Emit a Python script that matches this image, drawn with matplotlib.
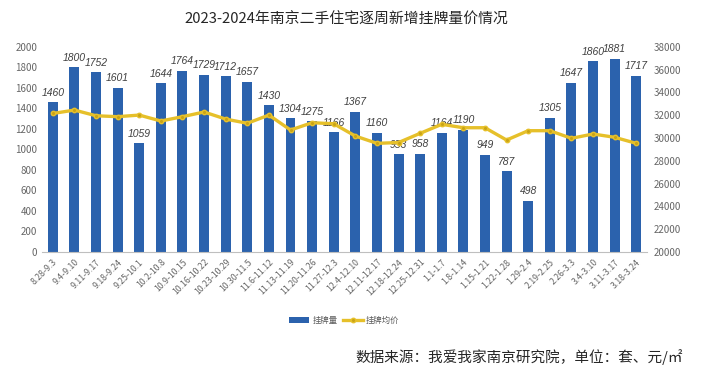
import numpy as np
import matplotlib.pyplot as plt

plt.rcParams['font.family'] = ['Noto Sans CJK SC', 'DejaVu Sans']

weeks = ['8.28-9.3', '9.4-9.10', '9.11-9.17', '9.18-9.24', '9.25-10.1', '10.2-10.8',
         '10.9-10.15', '10.16-10.22', '10.23-10.29', '10.30-11.5', '11.6-11.12',
         '11.13-11.19', '11.20-11.26', '11.27-12.3', '12.4-12.10', '12.11-12.17',
         '12.18-12.24', '12.25-12.31', '1.1-1.7', '1.8-1.14', '1.15-1.21', '1.22-1.28',
         '1.29-2.4', '2.19-2.25', '2.26-3.3', '3.4-3.10', '3.11-3.17', '3.18-3.24']
listings = [1460, 1800, 1752, 1601, 1059, 1644, 1764, 1729, 1712, 1657, 1430, 1304, 1275,
            1166, 1367, 1160, 953, 958, 1164, 1190, 949, 787, 498, 1305, 1647, 1860, 1881, 1717]
avg_price = [32150, 32450, 31950, 31870, 32010, 31490, 31870, 32280, 31660, 31290, 32010,
             30700, 31340, 31250, 30170, 29530, 29600, 30410, 31200, 30900, 30900, 29820,
             30640, 30640, 29970, 30350, 30060, 29530]

fig = plt.figure(figsize=(7.06, 3.87), dpi=100)
ax = fig.add_axes([0.0595, 0.349, 0.857, 0.530])
x = np.arange(len(weeks))

ax.bar(x, listings, width=0.46, color='#2b62ad', label='挂牌量', zorder=2)
for xi, v in zip(x, listings):
    ax.text(xi, v + 45, str(v), ha='center', va='bottom', fontsize=7.5,
            family='Liberation Sans', style='italic', color='#404040', zorder=5)

ax.set_ylim(0, 2000)
ax.set_yticks(range(0, 2001, 200))
ax.set_xlim(-0.5, len(weeks) - 0.5)
ax.set_xticks(x)
ax.set_xticklabels(weeks, rotation=45, ha='right', rotation_mode='anchor', fontsize=6.3,
                   color='#666666')
ax.tick_params(axis='y', labelsize=7, colors='#666666', length=0)
ax.tick_params(axis='x', length=0, pad=4)
for s in ['top', 'right', 'left']:
    ax.spines[s].set_visible(False)
ax.spines['bottom'].set_color('#bfbfbf')

ax2 = ax.twinx()
ax2.plot(x, avg_price, color='#e6c02a', lw=2.4, marker='o', markersize=3.2,
         markerfacecolor='#c9a416', markeredgecolor='#e6c02a', label='挂牌均价', zorder=3)
ax2.set_ylim(20000, 38000)
ax2.set_yticks(range(20000, 38001, 2000))
ax2.tick_params(axis='y', labelsize=7, colors='#666666', length=0, pad=5)
for s in ['top', 'right', 'left', 'bottom']:
    ax2.spines[s].set_visible(False)

h1, l1 = ax.get_legend_handles_labels()
h2, l2 = ax2.get_legend_handles_labels()
fig.legend(h1 + h2, l1 + l2, loc='center', bbox_to_anchor=(0.488, 0.172), ncol=2,
           frameon=False, fontsize=6, handlelength=2.4, columnspacing=0.6,
           handletextpad=0.4, labelcolor='#595959')

fig.text(0.49, 0.95, '2023-2024年南京二手住宅逐周新增挂牌量价情况', ha='center', va='center',
         fontsize=10.7, color='#262626')
fig.text(0.968, 0.077, '数据来源：我爱我家南京研究院，单位：套、元/㎡', ha='right', va='center',
         fontsize=10.5, color='#262626')

fig.savefig('out.png', dpi=100)
